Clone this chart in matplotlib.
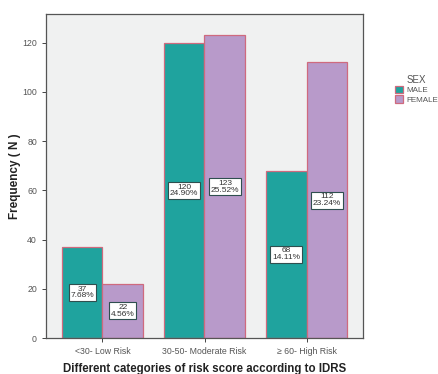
import matplotlib.pyplot as plt
import numpy as np

plt.rcParams['font.family'] = ['Liberation Sans', 'DejaVu Sans']

# risk groups by IDRS score
categories = ['<30- Low Risk', '30-50- Moderate Risk', '\u2265 60- High Risk']
male = [37, 120, 68]
female = [22, 123, 112]
male_pct = ['7.68%', '24.90%', '14.11%']
female_pct = ['4.56%', '25.52%', '23.24%']

teal = '#1fa39e'
lilac = '#b89aca'
edge = '#cf6a7e'
grey = '#444444'

fig = plt.figure(figsize=(4.39, 3.74), dpi=100)
ax = fig.add_axes([46 / 439, 36 / 374, 317 / 439, 324 / 374])
ax.set_facecolor('#f0f1f1')

x = np.arange(len(categories))
w = 0.4
b1 = ax.bar(x - w / 2, male, w, color=teal, edgecolor=edge, linewidth=0.9, label='MALE')
b2 = ax.bar(x + w / 2, female, w, color=lilac, edgecolor=edge, linewidth=0.9, label='FEMALE')

# count / percentage boxes at mid-height of each bar
for bars, vals, pcts in [(b1, male, male_pct), (b2, female, female_pct)]:
    for r, v, p in zip(bars, vals, pcts):
        ax.text(r.get_x() + r.get_width() / 2, v / 2, f'{v}\n{p}',
                ha='center', va='center', fontsize=6, color='#333333',
                linespacing=0.95,
                bbox=dict(boxstyle='square,pad=0.2', fc='white', ec='#2f4f4f', lw=0.8))

ax.set_xlim(-0.553, 2.553)
ax.set_ylim(0, 131.7)
ax.set_yticks([0, 20, 40, 60, 80, 100, 120])
ax.set_xticks(x)
ax.set_xticklabels(categories)
ax.tick_params(labelsize=6.3, colors=grey, length=3, width=0.7, labelcolor='#555555')

for s in ax.spines.values():
    s.set_color('#555555')
    s.set_linewidth(0.9)

ax.set_ylabel('Frequency ( N )', fontsize=8.5, fontweight='bold', color='#222222', labelpad=1)
ax.set_xlabel('Different categories of risk score according to IDRS', fontsize=8.3,
              fontweight='bold', color='#222222', labelpad=5)

leg = fig.legend(handles=[b1, b2], loc='upper left', bbox_to_anchor=(389 / 439, 1 - 69 / 374),
                 title='SEX', fontsize=5.8, title_fontsize=7, frameon=False,
                 handlelength=1.0, handleheight=1.0, handletextpad=0.4,
                 labelspacing=0.15, borderpad=0.2)
for t in leg.get_texts():
    t.set_color('#555555')
leg.get_title().set_color('#555555')

fig.savefig('out.png', dpi=100)
